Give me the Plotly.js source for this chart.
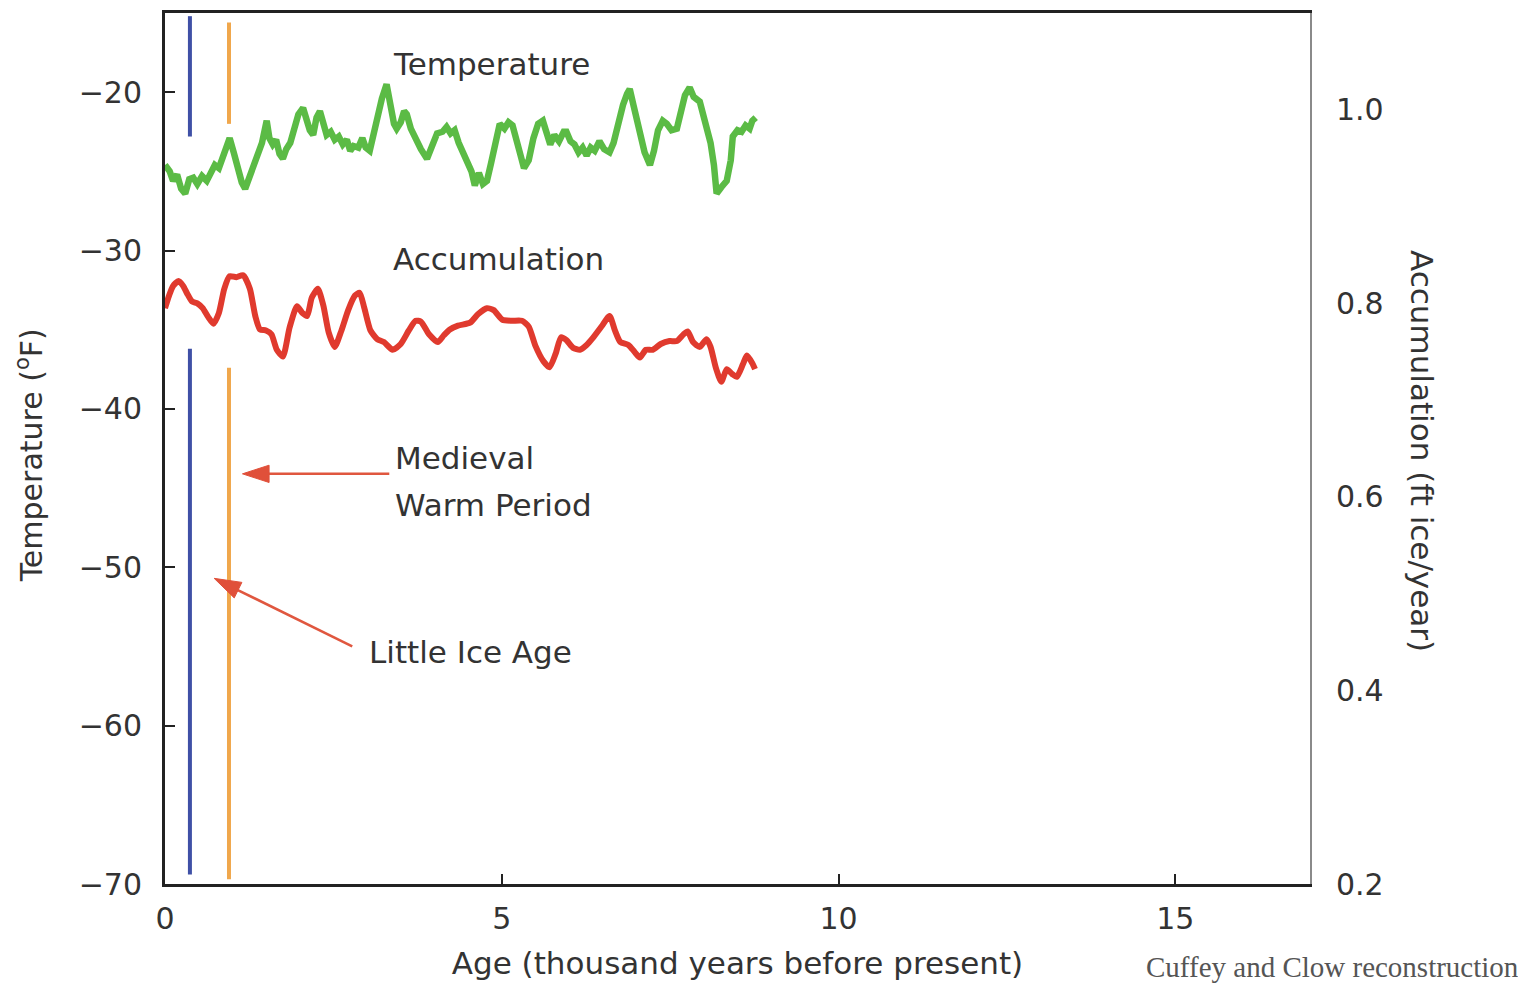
<!DOCTYPE html>
<html>
<head>
<meta charset="utf-8">
<script src="https://cdn.plot.ly/plotly-3.0.1.min.js"></script>
<style>html,body{margin:0;padding:0;background:#fff;}#chart{width:1518px;height:988px;}</style>
</head>
<body>
<div id="chart"></div>
<script>
// Temperature (°F) vs age (thousand years before present)
const tempAge = [0.00,0.07,0.12,0.18,0.24,0.30,0.36,0.42,0.48,0.55,0.62,0.68,0.74,0.80,0.86,0.92,0.96,1.02,1.08,1.14,1.19,1.25,1.32,1.38,1.44,1.48,1.51,1.55,1.60,1.65,1.70,1.75,1.80,1.86,1.92,1.98,2.05,2.10,2.15,2.20,2.25,2.30,2.35,2.40,2.46,2.52,2.58,2.64,2.70,2.75,2.80,2.87,2.93,2.98,3.04,3.10,3.16,3.22,3.29,3.34,3.40,3.44,3.50,3.55,3.59,3.65,3.72,3.80,3.89,3.96,4.04,4.12,4.18,4.24,4.30,4.36,4.42,4.48,4.55,4.60,4.66,4.72,4.78,4.84,4.90,4.97,5.04,5.10,5.16,5.22,5.28,5.33,5.40,5.47,5.54,5.61,5.67,5.72,5.78,5.85,5.92,5.96,6.02,6.08,6.14,6.20,6.26,6.32,6.38,6.45,6.52,6.60,6.66,6.72,6.80,6.86,6.90,6.96,7.04,7.12,7.20,7.26,7.32,7.39,7.45,7.52,7.60,7.66,7.72,7.79,7.85,7.94,8.02,8.10,8.15,8.19,8.26,8.34,8.40,8.43,8.50,8.56,8.62,8.68,8.72,8.77];
const tempF = [-24.6,-25.0,-25.6,-25.2,-26.1,-26.4,-25.5,-25.4,-25.8,-25.3,-25.6,-25.1,-24.6,-24.8,-24.0,-23.4,-22.9,-23.8,-24.9,-25.7,-26.1,-25.4,-24.3,-23.9,-23.2,-22.4,-21.8,-22.9,-23.3,-23.0,-23.9,-24.2,-23.6,-23.2,-22.1,-21.4,-21.0,-21.9,-22.4,-22.7,-21.6,-21.2,-22.1,-22.7,-22.5,-23.0,-22.8,-23.3,-23.0,-23.7,-23.4,-23.5,-22.9,-23.5,-23.7,-22.6,-21.4,-20.4,-19.5,-20.8,-22.0,-22.3,-21.9,-21.2,-21.4,-22.3,-23.0,-23.6,-24.2,-23.4,-22.6,-22.5,-22.2,-22.6,-22.4,-23.2,-23.8,-24.2,-25.0,-25.9,-25.1,-25.8,-25.6,-24.5,-23.1,-22.0,-22.3,-21.9,-22.1,-22.9,-24.0,-24.8,-24.3,-22.9,-22.0,-21.8,-22.6,-23.3,-22.7,-23.1,-22.5,-22.5,-23.1,-23.3,-23.8,-23.5,-24.0,-23.5,-23.7,-23.1,-23.6,-23.8,-23.2,-22.0,-20.8,-20.1,-19.8,-20.9,-22.5,-23.8,-24.6,-23.7,-22.4,-21.8,-22.0,-22.4,-22.3,-21.3,-20.2,-19.7,-20.3,-20.6,-21.8,-23.2,-24.6,-26.4,-26.0,-25.6,-24.3,-22.8,-22.4,-22.5,-22.1,-22.3,-21.8,-21.6];

// Accumulation (ft ice/year) vs age
const accAge = [0.00,0.06,0.12,0.20,0.27,0.33,0.40,0.48,0.56,0.64,0.72,0.80,0.88,0.96,1.06,1.16,1.26,1.34,1.41,1.50,1.58,1.66,1.75,1.85,1.96,2.04,2.11,2.18,2.27,2.35,2.43,2.52,2.62,2.72,2.82,2.89,2.96,3.05,3.15,3.25,3.38,3.50,3.62,3.72,3.80,3.92,4.05,4.14,4.23,4.35,4.53,4.65,4.78,4.88,5.01,5.15,5.30,5.40,5.50,5.62,5.71,5.80,5.88,5.96,6.06,6.16,6.26,6.35,6.48,6.60,6.68,6.76,6.88,6.97,7.05,7.14,7.24,7.36,7.49,7.60,7.70,7.76,7.84,7.94,8.04,8.10,8.18,8.26,8.34,8.42,8.49,8.58,8.64,8.72,8.76];
const accFt = [0.795,0.808,0.818,0.823,0.818,0.810,0.802,0.800,0.795,0.786,0.779,0.790,0.815,0.828,0.827,0.829,0.815,0.787,0.773,0.772,0.768,0.752,0.745,0.775,0.797,0.790,0.787,0.806,0.815,0.798,0.770,0.755,0.772,0.793,0.808,0.811,0.795,0.772,0.763,0.760,0.752,0.758,0.772,0.782,0.781,0.768,0.760,0.767,0.773,0.777,0.780,0.789,0.795,0.793,0.783,0.782,0.782,0.776,0.756,0.740,0.734,0.748,0.765,0.762,0.754,0.752,0.757,0.764,0.776,0.787,0.772,0.760,0.757,0.750,0.744,0.752,0.752,0.758,0.761,0.761,0.768,0.771,0.760,0.755,0.763,0.755,0.733,0.719,0.732,0.727,0.724,0.737,0.746,0.738,0.732];

// Period markers (age, thousand years) and their drawn segments (°F)
const liaAge = 0.37;
const liaSegments = [[-15.2, -22.8], [-36.2, -69.4]];
const mwpAge = 0.95;
const mwpSegments = [[-15.6, -22.0], [-37.4, -69.7]];

// Callout arrows: [tail, head] in (age, °F)
const mwpArrowX = [3.33, 1.15];
const mwpArrowY = [-44.1, -44.1];
const liaArrowX = [2.78, 0.73];
const liaArrowY = [-55.0, -50.7];

const xTicks = [0, 5, 10, 15];
const tempTicks = [-20, -30, -40, -50, -60, -70];
const accTicks = [0.2, 0.4, 0.6, 0.8, 1.0];
const accTickText = ['0.2', '0.4', '0.6', '0.8', '1.0'];

function segTrace(age, segs, color) {
  const x = [], y = [];
  segs.forEach((s, i) => { if (i) { x.push(null); y.push(null); } x.push(age, age); y.push(s[0], s[1]); });
  return {x: x, y: y, mode: 'lines', line: {color: color, width: 4}, hoverinfo: 'skip', showlegend: false};
}
function arrowTrace(xs, ys) {
  return {x: xs, y: ys, mode: 'lines+markers', line: {color: '#e0573f', width: 2.5},
    marker: {symbol: 'arrow', angleref: 'previous', size: [0, 28], color: '#e0503a', opacity: 1, line: {width: 1, color: '#e0503a'}},
    hoverinfo: 'skip', showlegend: false};
}

const FONT = 'DejaVu Sans, Liberation Sans, Arial, sans-serif';
const TXT = '#333333';

const traces = [
  segTrace(liaAge, liaSegments, '#3f50a6'),
  segTrace(mwpAge, mwpSegments, '#f0a74c'),
  arrowTrace(mwpArrowX, mwpArrowY),
  arrowTrace(liaArrowX, liaArrowY),
  {x: tempAge, y: tempF, mode: 'lines', line: {color: '#5bbb45', width: 6.5, shape: 'linear'}, showlegend: false},
  {x: accAge, y: accFt, yaxis: 'y2', mode: 'lines', line: {color: '#e03a2e', width: 6, shape: 'spline', smoothing: 0.6}, showlegend: false}
];

const ann = (x, y, text, opts) => Object.assign({x: x, y: y, xref: 'x', yref: 'y', text: text, showarrow: false,
  font: {family: FONT, size: 31, color: TXT}}, opts || {});

const layout = {
  width: 1518, height: 988,
  margin: {l: 165, r: 208, t: 13, b: 104},
  paper_bgcolor: '#ffffff', plot_bgcolor: '#ffffff',
  font: {family: FONT, size: 30, color: TXT},
  xaxis: {
    range: [0, 17], tickvals: xTicks, ticks: 'inside', ticklen: 10, tickwidth: 2, tickcolor: '#222',
    showline: true, linewidth: 3, linecolor: '#222', mirror: true, showgrid: false, zeroline: false,
    tickfont: {family: FONT, size: 30, color: TXT}, ticklabelstandoff: 6,
    title: {text: 'Age (thousand years before present)', font: {family: FONT, size: 31, color: TXT}, standoff: 18}
  },
  yaxis: {
    range: [-70, -15], tickvals: tempTicks, ticks: 'inside', ticklen: 10, tickwidth: 2, tickcolor: '#222',
    showline: true, linewidth: 3, linecolor: '#222', showgrid: false, zeroline: false,
    tickfont: {family: FONT, size: 30, color: TXT}, ticklabelstandoff: 14
  },
  yaxis2: {
    overlaying: 'y', side: 'right', range: [0.2, 1.1], tickvals: accTicks, ticktext: accTickText,
    ticks: '', showline: true, linewidth: 2, linecolor: '#8a8a8a', showgrid: false, zeroline: false,
    tickfont: {family: FONT, size: 30, color: TXT}, ticklabelstandoff: 18
  },
  annotations: [
    ann(4.85, -18.2, 'Temperature'),
    ann(4.95, -30.55, 'Accumulation'),
    ann(3.38, -43.1, 'Medieval', {xanchor: 'left'}),
    ann(3.38, -46.05, 'Warm Period', {xanchor: 'left'}),
    ann(3.0, -55.35, 'Little Ice Age', {xanchor: 'left'}),
    {x: -0.118, y: 0.492, xref: 'paper', yref: 'paper', xanchor: 'center', yanchor: 'middle', text: 'Temperature (<sup>o</sup>F)',
     textangle: -90, showarrow: false, font: {family: FONT, size: 30, color: TXT}},
    {x: 1.0, y: 0.497, xref: 'paper', yref: 'paper', xanchor: 'center', yanchor: 'middle', xshift: 112, text: 'Accumulation (ft ice/year)',
     textangle: 90, showarrow: false, font: {family: FONT, size: 31, color: TXT}},
    {x: 0.855, y: -0.095, xref: 'paper', yref: 'paper', xanchor: 'left', yanchor: 'middle', text: 'Cuffey and Clow reconstruction',
     showarrow: false, font: {family: 'Liberation Serif, Times New Roman, serif', size: 29, color: '#555555'}}
  ]
};

Plotly.newPlot('chart', traces, layout, {displayModeBar: false, staticPlot: true});
</script>
</body>
</html>
